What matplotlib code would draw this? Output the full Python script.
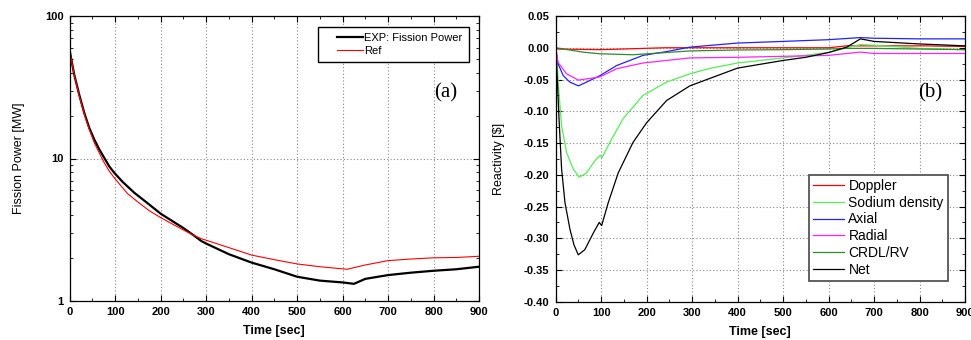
import matplotlib
matplotlib.use("Agg")
import numpy as np
import matplotlib.pyplot as plt
from matplotlib.lines import Line2D
from matplotlib.legend_handler import HandlerLine2D
from matplotlib.ticker import MultipleLocator, LogLocator, NullFormatter, FixedLocator, FixedFormatter

plt.rcParams['font.family'] = ['Liberation Sans', 'DejaVu Sans']

# ---------------- Panel (a): fission power ----------------
t_exp = [1, 10, 21, 32, 43, 54, 65, 76, 87, 98, 116, 142, 169, 200, 250, 272, 289, 300, 350,
         400, 450, 500, 550, 600, 625, 650, 700, 750, 800, 850, 900]
p_exp = [54.8, 38.7, 28.0, 20.9, 16.4, 13.6, 11.6, 10.1, 8.8, 7.94, 6.87, 5.75, 4.92, 4.1, 3.25,
         2.9, 2.64, 2.53, 2.13, 1.86, 1.67, 1.48, 1.39, 1.35, 1.32, 1.43, 1.52, 1.58, 1.63, 1.67,
         1.74]

t_ref = [1, 10, 21, 32, 43, 54, 65, 76, 87, 98, 113, 127.5, 151, 175, 200, 250, 272, 289, 300,
         350, 400, 450, 500, 550, 610, 650, 700, 750, 800, 850, 900]
p_ref = [54.8, 38.5, 27.5, 20.5, 16.0, 12.9, 10.96, 9.33, 8.15, 7.33, 6.41, 5.66, 4.92, 4.3, 3.85,
         3.15, 2.9, 2.74, 2.67, 2.37, 2.1, 1.95, 1.82, 1.74, 1.67, 1.79, 1.92, 1.97, 2.01, 2.02,
         2.06]

# ---------------- Panel (b): reactivity components ----------------
t_net = [0, 3.5, 7.3, 13, 20.4, 31.4, 40, 49.6, 64, 82.5, 95.7, 101, 115.5, 137.5, 170, 200, 244,
         295, 400, 500, 550, 600, 640, 670, 700, 800, 900]
r_net = [0.0, -0.049, -0.112, -0.191, -0.244, -0.286, -0.310, -0.326, -0.318, -0.292, -0.275,
         -0.280, -0.244, -0.197, -0.149, -0.118, -0.083, -0.060, -0.032, -0.020, -0.015, -0.0075,
         0.001, 0.014, 0.010, 0.006, 0.003]

t_na = [0, 3, 6, 13, 24, 38.6, 51.8, 68, 86, 97, 102, 119, 148, 192, 244, 295, 342, 400, 500,
        600, 640, 670, 700, 800, 900]
r_na = [0.0, -0.02, -0.060, -0.123, -0.165, -0.191, -0.204, -0.197, -0.178, -0.170, -0.173,
        -0.149, -0.112, -0.075, -0.054, -0.041, -0.032, -0.024, -0.016, -0.0075, 0.0, 0.005,
        0.004, -0.001, -0.003]

t_ax = [0, 5, 16.7, 31, 50, 68, 97, 134, 192, 244, 295, 400, 500, 600, 670, 700, 800, 900]
r_ax = [0.0, -0.025, -0.044, -0.054, -0.060, -0.054, -0.044, -0.028, -0.012, -0.006, 0.001,
        0.0074, 0.010, 0.0127, 0.016, 0.015, 0.014, 0.014]

t_rad = [0, 5, 24, 50, 68, 97, 134, 192, 295, 400, 500, 600, 670, 700, 900]
r_rad = [0.0, -0.023, -0.041, -0.051, -0.049, -0.046, -0.033, -0.024, -0.016, -0.015, -0.0135,
         -0.012, -0.0068, -0.009, -0.009]

t_dop = [0, 5, 100, 240, 600, 640, 700, 810, 900]
r_dop = [0.0, -0.002, -0.003, 0.0, 0.0, 0.003, 0.003, 0.003, 0.002]

t_crdl = [0, 61, 97, 170, 295, 400, 500, 600, 640, 700, 800, 900]
r_crdl = [0.0, -0.007, -0.0095, -0.011, -0.005, -0.0035, -0.003, -0.002, -0.001, -0.001, -0.002,
          -0.003]


class RightLineHandler(HandlerLine2D):
    """Draws the legend line only on the right part of the handle box (leaves left padding)."""
    def __init__(self, frac=0.68, **kw):
        super().__init__(**kw)
        self.frac = frac

    def create_artists(self, legend, orig_handle, xdescent, ydescent, width, height,
                       fontsize, trans):
        arts = super().create_artists(legend, orig_handle, xdescent, ydescent, width, height,
                                      fontsize, trans)
        for a in arts:
            if isinstance(a, Line2D):
                xd = np.asarray(a.get_xdata(), dtype=float)
                if len(xd) >= 2:
                    x0, x1 = xd[0], xd[-1]
                    a.set_xdata(np.linspace(x1 - self.frac * (x1 - x0), x1, len(xd)))
        return arts


fig = plt.figure(figsize=(9.71, 3.40), dpi=100)
axA = fig.add_axes([69.7 / 971, 1 - 301 / 340, (479 - 69.7) / 971, (301 - 16) / 340])
axB = fig.add_axes([555.7 / 971, 1 - 301.8 / 340, (965 - 555.7) / 971, (301.8 - 16) / 340])


def style(ax):
    ax.tick_params(which='both', direction='in', top=True, right=True)
    ax.tick_params(which='major', length=4, width=0.8, pad=4.5)
    ax.tick_params(which='minor', length=2.5, width=0.6)
    for lab in ax.get_xticklabels() + ax.get_yticklabels():
        lab.set_fontsize(8)
        lab.set_fontweight('bold')
    ax.grid(True, which='major', linestyle=(0, (1, 2)), color='#888888', linewidth=0.8)
    for s in ax.spines.values():
        s.set_linewidth(0.9)
    ax.set_xlim(0, 900)
    ax.xaxis.set_major_locator(MultipleLocator(100))
    ax.xaxis.set_minor_locator(MultipleLocator(50))
    ax.set_xlabel('Time [sec]', fontsize=9, fontweight='bold')
    ax.xaxis.set_label_coords(0.5, -0.085)


# Panel (a)
axA.plot(t_exp, p_exp, color='black', lw=1.6, label='EXP: Fission Power')
axA.plot(t_ref, p_ref, color='red', lw=0.8, label='Ref')
axA.set_yscale('log')
axA.set_ylim(1, 100)
axA.yaxis.set_major_locator(FixedLocator([1, 10, 100]))
axA.yaxis.set_major_formatter(FixedFormatter(['1', '10', '100']))
axA.yaxis.set_minor_locator(LogLocator(base=10, subs=range(2, 10)))
axA.yaxis.set_minor_formatter(NullFormatter())
style(axA)
axA.set_ylabel('Fission Power [MW]', fontsize=9)
axA.yaxis.set_label_coords(-0.108, 0.5)
legA = axA.legend(loc='upper right', bbox_to_anchor=(0.975, 0.962), fontsize=8,
                  fancybox=False, framealpha=1, edgecolor='black', handlelength=3.5,
                  handletextpad=0.1, labelspacing=0.3, borderpad=0.55, borderaxespad=0,
                  handler_map={Line2D: RightLineHandler(frac=0.68)})
legA.get_frame().set_linewidth(1.0)
axA.text(0.919, 0.73, '(a)', transform=axA.transAxes, ha='center', va='center',
         fontsize=15, family=['Liberation Serif', 'DejaVu Serif'])

# Panel (b)
axB.plot(t_dop, r_dop, color='#ff0000', lw=0.9, label='Doppler')
axB.plot(t_na, r_na, color='#55ee55', lw=0.9, label='Sodium density')
axB.plot(t_ax, r_ax, color='#2222ff', lw=0.9, label='Axial')
axB.plot(t_rad, r_rad, color='#ff22ff', lw=0.9, label='Radial')
axB.plot(t_crdl, r_crdl, color='#2e8b2e', lw=0.9, label='CRDL/RV')
axB.plot(t_net, r_net, color='black', lw=0.9, label='Net')
axB.set_ylim(-0.40, 0.05)
axB.yaxis.set_major_locator(MultipleLocator(0.05))
axB.yaxis.set_minor_locator(MultipleLocator(0.025))
axB.yaxis.set_major_formatter(plt.FuncFormatter(lambda v, p: f'{v:.2f}'.replace('-0.00', '0.00')))
style(axB)
axB.set_ylabel('Reactivity [\\$]', fontsize=9)
axB.yaxis.set_label_coords(-0.124, 0.5)
legB = axB.legend(loc='lower right', bbox_to_anchor=(0.958, 0.073), fontsize=10,
                  fancybox=False, framealpha=1, edgecolor='#555555', handlelength=2.2,
                  handletextpad=0.35, labelspacing=0.2, borderpad=0.3, borderaxespad=0)
legB.get_frame().set_linewidth(1.3)
axB.text(0.916, 0.732, '(b)', transform=axB.transAxes, ha='center', va='center',
         fontsize=15, family=['Liberation Serif', 'DejaVu Serif'])

fig.savefig('out.png', dpi=100)
